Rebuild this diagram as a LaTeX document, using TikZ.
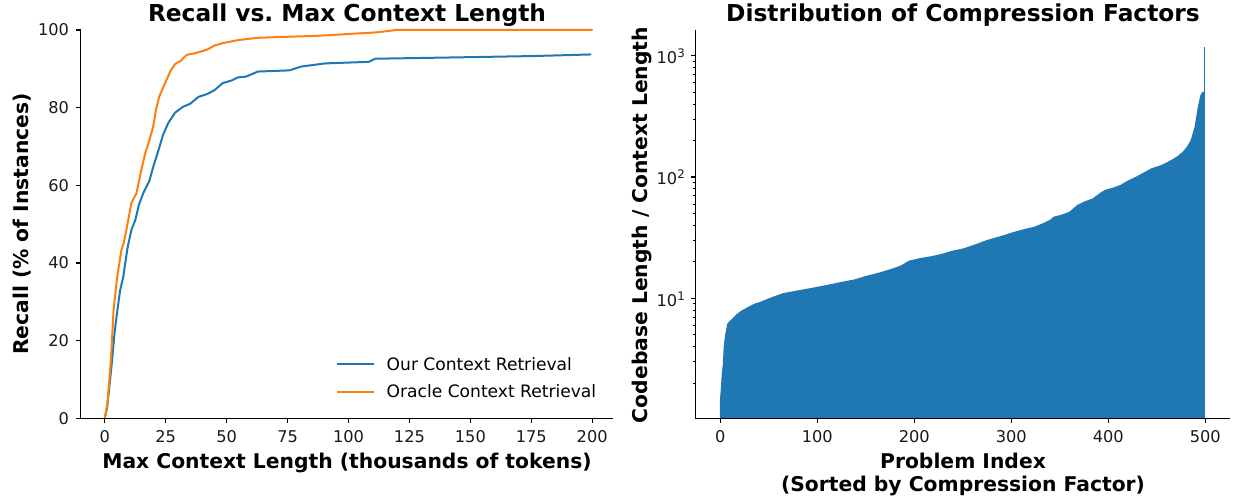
\documentclass[tikz,border=0pt]{standalone}
\usepackage{fontspec}
\setmainfont{DejaVu Sans}
\frenchspacing
\definecolor{mblue}{HTML}{1F77B4}
\definecolor{morange}{HTML}{FF7F0E}
\tikzset{
  spine/.style={line width=1.1pt, black},
  tickmark/.style={line width=1.1pt, black},
  minortick/.style={line width=0.8pt, black},
  ticklab/.style={font=\fontsize{16.2}{19}\selectfont, inner sep=0pt, text=black!90},
  axlab/.style={font=\fontsize{20.3}{24}\selectfont\bfseries, inner sep=0pt},
  ptitle/.style={font=\fontsize{23.3}{28}\selectfont\bfseries, inner sep=0pt},
  curve/.style={line width=2pt, line join=round, line cap=round},
  legtext/.style={font=\fontsize{17.1}{20}\selectfont, inner sep=0pt, anchor=base west},
}
\begin{document}
\begin{tikzpicture}[x=1pt,y=-1pt]
\useasboundingbox (0,0) rectangle (1233,497);

% ---------------- left plot ----------------
\begin{scope}[shift={(104.8,418.3)}, x=2.437pt, y=3.883pt]
  \draw[curve, mblue] plot coordinates {(0,0) (1,3) (2,9) (3,15) (4,22) (5.2,28) (6.3,33) (7.6,36.5) (9.3,43.8) (10.9,48.5) (12.5,51) (14,55) (15.8,58) (18.2,61) (20,65) (22,69) (23.9,73) (26,76) (28.8,78.7) (32,80.2) (35,81) (38.5,82.8) (42,83.5) (45,84.5) (48.3,86.3) (52,87) (54.7,87.8) (58,88) (62.8,89.3) (75.7,89.6) (80.7,90.6) (90.5,91.4) (108.3,91.8) (111,92.6) (149,93) (176.5,93.3) (199.3,93.7)};
  \draw[curve, morange] plot coordinates {(0,0) (1.1,3.9) (2.5,15) (3.6,27.9) (5,36) (6.8,43.3) (7.7,45) (9,49) (10.9,55.4) (13,58) (15,64) (16.6,68.3) (18,71) (19.8,75) (21,79.4) (22.3,82.8) (24.7,86.3) (27,89.5) (28.8,91.2) (31,92) (33.6,93.6) (37,94) (41.8,94.9) (45,96) (48.3,96.6) (54.7,97.4) (62.8,98) (87.2,98.5) (103.5,99.1) (111.8,99.4) (119.5,100) (200,100)};
  \draw[spine] (-9.89,100) -- (-9.89,0) -- (208.66,0);
  \foreach \v in {0,25,...,200} {
    \draw[tickmark] (\v,0) -- ++(0pt,-5pt);
    \path (\v,0) ++(0pt,-24pt) node[ticklab, anchor=base] (lx\v) {\v};
  }
  \foreach \v in {0,20,...,100} {
    \draw[tickmark] (-9.89,\v) -- ++(-5pt,0pt);
    \path (-9.89,\v) ++(-11.5pt,-6pt) node[ticklab, anchor=base east] (ly\v) {\v};
  }
\end{scope}

% legend
\draw[curve, mblue, line cap=butt] (336.8,364.3) -- (373.5,364.3);
\node[legtext] (leg1) at (386.5,370) {Our Context Retrieval};
\draw[curve, morange, line cap=butt] (336.8,391.7) -- (373.5,391.7);
\node[legtext] (leg2) at (386.5,397.6) {Oracle Context Retrieval};

\node[ptitle, anchor=base] (t1) at (347,21.5) {Recall vs. Max Context Length};
\node[axlab, anchor=base] (xl1) at (347,468.3) {Max Context Length (thousands of tokens)};
\node[axlab, rotate=90, anchor=base] (yl1) at (28.5,224) {Recall (\% of Instances)};

% ---------------- right plot ----------------
\begin{scope}[shift={(720.3,419.6)}, x=0.97pt, y=121.3pt]
  \fill[mblue] plot coordinates {(-0.4,0.0107) (-0.4,0.16) (0.5,0.25) (1.5,0.38) (2.5,0.45) (3.5,0.6) (4.8,0.69) (6,0.74) (7.2,0.79) (9.3,0.81) (12,0.83) (17,0.87) (22,0.9) (29,0.93) (35,0.955) (41,0.97) (47,0.99) (55,1.015) (65,1.043) (80,1.065) (97.6,1.091) (110,1.11) (125.9,1.137) (138,1.155) (150,1.184) (165,1.215) (178,1.247) (186,1.27) (194.5,1.31) (205,1.33) (218.7,1.349) (230,1.37) (238.9,1.392) (250.9,1.412) (263,1.445) (275,1.481) (290,1.515) (303.4,1.549) (313,1.57) (323.6,1.59) (333,1.62) (339.7,1.646) (343.8,1.673) (352,1.69) (359.9,1.714) (367.9,1.769) (376,1.8) (384.1,1.824) (390,1.86) (396.2,1.893) (404,1.91) (412.4,1.934) (420,1.97) (428.5,2.002) (436,2.035) (444.6,2.072) (455,2.1) (464.8,2.14) (471,2.17) (476.9,2.209) (481,2.25) (485,2.305) (489,2.415) (492.3,2.58) (495,2.676) (497,2.7) (498.4,2.703) (498.4,0.0107)} -- cycle;
  \fill[mblue] (498.6,0.0107) rectangle (499.4,3.069);
  \draw[spine] (-25.36,3.212) -- (-25.36,0.0107) -- (525.5,0.0107);
  \foreach \v in {0,100,...,500} {
    \draw[tickmark] (\v,0.0107) -- ++(0pt,-5pt);
    \path (\v,0.0107) ++(0pt,-24pt) node[ticklab, anchor=base] (rx\v) {\v};
  }
  \foreach \k in {1,2,3} {
    \draw[tickmark] (-25.36,\k) -- ++(-5pt,0pt);
    \path (-25.36,\k) ++(-10.7pt,-8pt) node[ticklab, anchor=base east] (ry\k) {10\raisebox{6pt}{\fontsize{11.8}{12}\selectfont\k}};
  }
  \foreach \n in {0,1,2} {
    \foreach \k in {2,...,9} {
      \draw[minortick] (-25.36,{\n+log10(\k)}) -- ++(-3pt,0pt);
    }
  }
\end{scope}

\node[ptitle, anchor=base] (t2) at (963,21.5) {Distribution of Compression Factors};
\node[axlab, anchor=base] (xl2a) at (963,468.3) {Problem Index};
\node[axlab, anchor=base] (xl2b) at (963,491.5) {(Sorted by Compression Factor)};
\node[axlab, rotate=90, anchor=base] (yl2) at (647,225) {Codebase Length / Context Length};
\end{tikzpicture}
\end{document}
